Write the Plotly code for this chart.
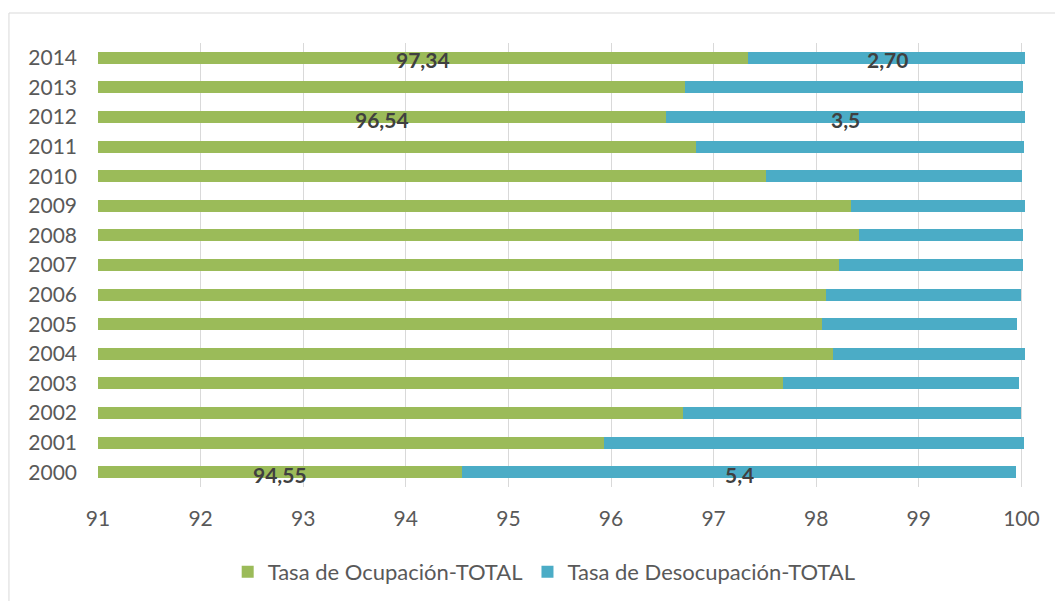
import plotly.graph_objects as go

years = list(range(2000, 2015))
ocupacion = [94.55, 95.93, 96.70, 97.68, 98.16, 98.06, 98.10, 98.22, 98.42, 98.34, 97.51, 96.83, 96.54, 96.72, 97.34]
desocupacion = [5.4, 4.1, 3.3, 2.3, 1.9, 1.9, 1.9, 1.8, 1.6, 1.7, 2.5, 3.2, 3.5, 3.3, 2.70]
label_years = [2000, 2012, 2014]
label_ocup = ["94,55", "96,54", "97,34"]
label_desoc = ["5,4", "3,5", "2,70"]

xmin, xmax = 91, 100.035
# the page body has an 8px margin, so the figure sits at (8, 8) in the window
OFF = 8
W, H = 1063 - OFF, 601 - OFF
ml, mt = 98 - OFF, 43 - OFF
mr = W - (1024.6 - OFF)
mb = H - (487 - OFF)

green = "#9BBB59"
blue = "#4BACC6"
font = "Lato, Carlito, Calibri, sans-serif"
gray = "#595959"

fig = go.Figure()
fig.add_trace(go.Bar(y=years, x=ocupacion, orientation="h", name="Tasa de Ocupación-TOTAL",
                     width=0.4, marker=dict(color=green, line=dict(width=0))))
fig.add_trace(go.Bar(y=years, x=desocupacion, orientation="h", name="Tasa de Desocupación-TOTAL",
                     width=0.4, marker=dict(color=blue, line=dict(width=0))))

annotations = []
for yr, lo, ld in zip(label_years, label_ocup, label_desoc):
    i = years.index(yr)
    o = ocupacion[i]
    d = desocupacion[i]
    annotations.append(dict(x=(xmin + o) / 2, y=yr, text=lo, showarrow=False,
                            font=dict(family=font, size=21, color="#404040", weight="bold"), yshift=-2))
    annotations.append(dict(x=o + d / 2, y=yr, text=ld, showarrow=False,
                            font=dict(family=font, size=21, color="#404040", weight="bold"), yshift=-2))

pw = W - ml - mr
ph = H - mt - mb
fig.add_shape(type="rect", xref="paper", yref="paper",
              x0=(9 - OFF - ml) / pw, x1=(W + 5 - ml) / pw,
              y0=(H - mb - (H + 5)) / ph, y1=(H - mb - (13 - OFF)) / ph,
              line=dict(color="#d9d9d9", width=1), fillcolor="rgba(0,0,0,0)", layer="below")

fig.update_layout(
    width=W, height=H,
    margin=dict(l=ml, r=mr, t=mt, b=mb, autoexpand=False),
    barmode="stack",
    plot_bgcolor="white", paper_bgcolor="white",
    font=dict(family=font, size=21, color=gray),
    annotations=annotations,
    showlegend=True,
    legend=dict(orientation="h", x=(544 - OFF - ml) / pw, xanchor="center",
                y=(H - mb - (572 - OFF)) / ph, yanchor="middle",
                font=dict(family=font, size=22, color=gray), itemsizing="constant",
                traceorder="normal"),
    hovermode=False,
)
fig.update_xaxes(range=[xmin, xmax], tickvals=list(range(91, 101)), showgrid=True, gridcolor="#d9d9d9", gridwidth=1,
                 zeroline=False, showline=False, ticks="", tickfont=dict(size=21, color=gray),
                 ticklabelstandoff=17)
fig.update_yaxes(range=[1999.5, 2014.5], dtick=1, tick0=2000, showgrid=False, showline=False, ticks="",
                 zeroline=False, tickfont=dict(size=21, color=gray), ticklabelstandoff=20)

fig.write_html("out.html")
